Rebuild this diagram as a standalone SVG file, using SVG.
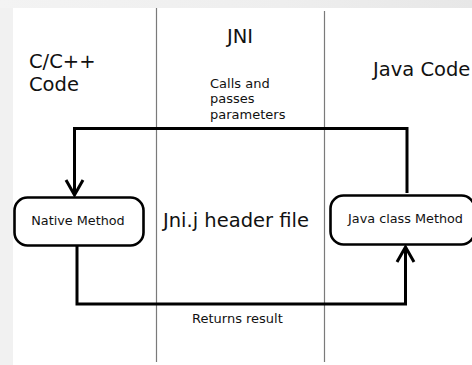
<svg xmlns="http://www.w3.org/2000/svg" width="472" height="365" viewBox="0 0 472 365">
  <style>
    .big { font-family: "DejaVu Sans", sans-serif; font-size: 19.5px; fill: #111; }
    .small { font-family: "DejaVu Sans", sans-serif; font-size: 13px; fill: #111; }
    .node-label { font-family: "DejaVu Sans", sans-serif; font-size: 12.8px; fill: #111; }
    .lane { stroke: #7a7a7a; stroke-width: 1.2; fill: none; }
    .box { fill: #fff; stroke: #000; stroke-width: 2.6; }
    .flow { fill: none; stroke: #000; stroke-width: 3; }
    .head { fill: none; stroke: #000; stroke-width: 3; stroke-linejoin: miter; }
  </style>
  <defs>
    <linearGradient id="topband" x1="0" y1="0" x2="1" y2="0">
      <stop offset="0" stop-color="#f3f3f3"/>
      <stop offset="0.6" stop-color="#eeeeee"/>
      <stop offset="1" stop-color="#e7e7e7"/>
    </linearGradient>
  </defs>

  <!-- page backdrop -->
  <rect x="0" y="0" width="472" height="365" fill="#f1f1f1"/>
  <rect x="0" y="0" width="472" height="8" fill="url(#topband)"/>
  <rect x="13" y="8" width="459" height="357" fill="#ffffff"/>

  <!-- swimlane separators -->
  <g id="lanes">
    <line class="lane" x1="156.5" y1="8" x2="156.5" y2="362"/>
    <line class="lane" x1="324.5" y1="11" x2="324.5" y2="362"/>
  </g>

  <!-- lane headings -->
  <g id="heading-c">
    <text class="big" x="29" y="68">C/C++</text>
    <text class="big" x="29" y="91">Code</text>
  </g>
  <g id="heading-jni">
    <text class="big" x="227" y="43">JNI</text>
  </g>
  <g id="heading-java">
    <text class="big" x="373" y="76">Java Code</text>
  </g>

  <!-- connectors -->
  <g id="connectors">
    <polyline class="flow" points="407,193 407,128.5 74.5,128.5 74.5,194"/>
    <polyline class="head" points="66,180 74.5,195 83,180"/>
    <polyline class="flow" points="77,246 77,304 405.5,304 405.5,249"/>
    <polyline class="head" points="397,262 405.5,247 414,262"/>
    <g id="label-calls">
      <text class="small" x="210" y="88">Calls and</text>
      <text class="small" x="210" y="103">passes</text>
      <text class="small" x="210" y="119">parameters</text>
    </g>
    <text id="label-returns" class="small" x="192" y="323">Returns result</text>
  </g>

  <!-- nodes -->
  <g id="native-method">
    <rect class="box" x="14.5" y="197.5" width="129" height="48" rx="13"/>
    <text class="node-label" x="78" y="225" text-anchor="middle">Native Method</text>
  </g>
  <g id="jni-header">
    <text class="big" x="163" y="227">Jni.j header file</text>
  </g>
  <g id="java-class-method">
    <rect class="box" x="330.5" y="195.5" width="144" height="49" rx="13"/>
    <text class="node-label" x="405.5" y="223" text-anchor="middle">Java class Method</text>
  </g>
</svg>
